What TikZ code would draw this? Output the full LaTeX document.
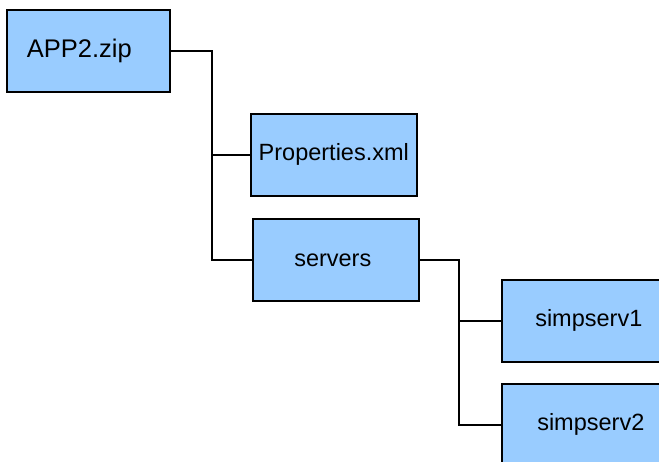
\documentclass[tikz,border=0pt]{standalone}
\usepackage{fontspec}
\setmainfont{Liberation Sans}
\begin{document}
\begin{tikzpicture}[x=1pt,y=-1pt,
  filebox/.style={draw=black, line width=1.6pt, fill={rgb,255:red,153;green,204;blue,255},
    minimum width=#1, minimum height=82pt, inner sep=0pt, anchor=north west,
    font=\fontsize{23.5}{26}\selectfont},
  filebox/.default=164pt,
  conn/.style={draw=black, line width=1.6pt}]
\useasboundingbox (0,0) rectangle (659,462);
\node[filebox=163pt, font=\fontsize{25.5}{28}\selectfont] (app) at (6,9) {\hspace*{-18pt}APP2.zip};
\node[filebox=166pt] (prop) at (250,113) {Properties.xml};
\node[filebox=166pt] (serv) at (252,218) {\hspace*{-6pt}servers};
\node[filebox=166pt] (s1) at (501,279) {\hspace*{8pt}simpserv1};
\node[filebox=166pt] (s2) at (501,383) {\hspace*{12pt}simpserv2};
\coordinate (j1) at (212,0);
\coordinate (j2) at (459,0);
\draw[conn] (app.east) -| (j1 |- serv.west) -- (serv.west);
\draw[conn] (j1 |- prop.west) -- (prop.west);
\draw[conn] (serv.east) -| (j2 |- s2.west) -- (s2.west);
\draw[conn] (j2 |- s1.west) -- (s1.west);
\end{tikzpicture}
\end{document}
